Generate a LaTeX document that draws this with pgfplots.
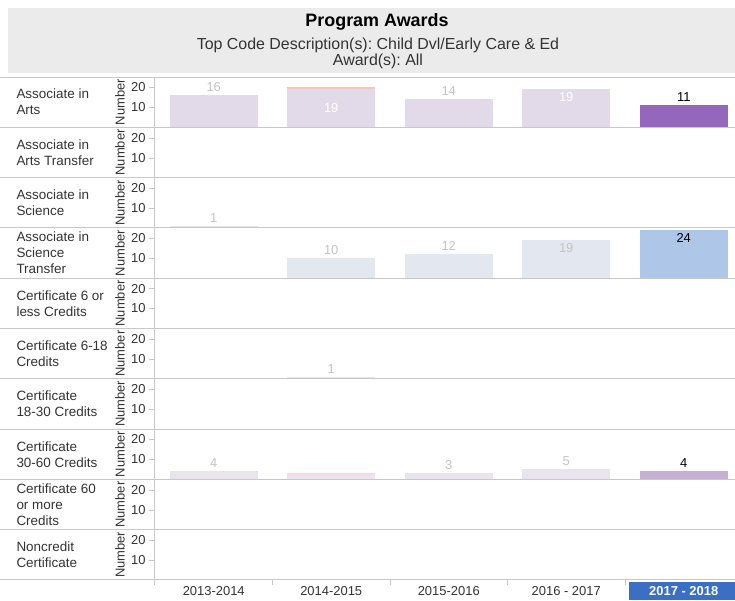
\documentclass[border=0pt]{standalone}
\usepackage{fontspec}
\setmainfont{Liberation Sans}
\usepackage{pgfplots}
\pgfplotsset{compat=1.18}
\usepgfplotslibrary{groupplots}
\frenchspacing

\definecolor{txt}{HTML}{333333}
\definecolor{hdr}{HTML}{EBEBEB}
\definecolor{sepgray}{HTML}{C8C8C8}
\definecolor{lblgray}{HTML}{C4C4C4}
\definecolor{artsF}{HTML}{E2DAE9}
\definecolor{artsH}{HTML}{9467BD}
\definecolor{salmon}{HTML}{F3C6BF}
\definecolor{sciF}{HTML}{E5E7EE}
\definecolor{astF}{HTML}{E3E7EF}
\definecolor{astH}{HTML}{AEC7E8}
\definecolor{peach}{HTML}{FCE3CC}
\definecolor{cF}{HTML}{E9E5EF}
\definecolor{cH}{HTML}{C5B0D5}
\definecolor{pinkF}{HTML}{F8D9DD}
\definecolor{selblue}{HTML}{3A6FC4}
\setlength{\fboxsep}{0pt}

% one bar with its label; #4 = label style
\newcommand{\bbar}[4]{\addplot[fill=#3,draw=none,nodes near coords,
  every node near coord/.append style={#4}] coordinates {(#1,#2)};}
% one bar without label
\newcommand{\ubar}[3]{\addplot[fill=#3,draw=none] coordinates {(#1,#2)};}
% row label, "Number" and separator line
\newcommand{\rowlabel}[1]{%
  \node[anchor=west,align=left,text=txt,font=\fontsize{13.5}{16}\selectfont]
    at ([xshift=-142bp]rel axis cs:0,0.5) {#1};
  \node[rotate=90,text=txt,font=\fontsize{13}{13}\selectfont]
    at ([xshift=-35bp]rel axis cs:0,0.5) {Number};
  \draw[sepgray,line width=1pt] ([xshift=-155bp]rel axis cs:0,0) -- ([xshift=580bp]rel axis cs:0,0);}

\tikzset{
  lo/.style={text=lblgray},
  li/.style={text=white,anchor=north},
  lg/.style={text=lblgray,anchor=north},
  lk/.style={text=black},
  lkin/.style={text=black,anchor=north},
}

\begin{document}
\begin{tikzpicture}
\begin{groupplot}[
  group style={group size=1 by 10, vertical sep=0pt},
  width=587.5bp, height=50.3bp, scale only axis,
  xmin=-0.5, xmax=4.5, ymin=0, ymax=25.2,
  ybar, /pgf/bar width=0.75, /pgf/bar shift=0pt,
  axis lines*=left,
  axis line style={-, draw=sepgray, line width=1pt},
  xtick=\empty, ytick={10,20},
  tick align=outside, major tick length=6bp,
  ytick style={draw=sepgray},
  yticklabel style={text=txt, font=\fontsize{13}{13}\selectfont},
  /pgf/number format/assume math mode=true,
  every node near coord/.append style={font=\fontsize{13}{13}\selectfont},
  clip=false,
]
\nextgroupplot
  \ubar{1}{20}{salmon}
  \bbar{0}{16}{artsF}{lo}
  \bbar{1}{19}{artsF}{text=white,anchor=center,yshift=-19bp}
  \bbar{2}{14}{artsF}{lo}
  \bbar{3}{19}{artsF}{li}
  \bbar{4}{11}{artsH}{lk}
  \rowlabel{Associate in\\Arts}
  \coordinate (TL) at (rel axis cs:0,1);
\nextgroupplot
  \rowlabel{Associate in\\Arts Transfer}
\nextgroupplot
  \bbar{0}{1}{sciF}{lo}
  \rowlabel{Associate in\\Science}
\nextgroupplot
  \bbar{1}{10}{astF}{lo}
  \bbar{2}{12}{astF}{lo}
  \bbar{3}{19}{astF}{lg}
  \bbar{4}{24}{astH}{lkin}
  \rowlabel{Associate in\\Science\\Transfer}
\nextgroupplot
  \rowlabel{Certificate 6 or\\less Credits}
\nextgroupplot
  \bbar{1}{1}{peach}{lo}
  \rowlabel{Certificate 6-18\\Credits}
\nextgroupplot
  \rowlabel{Certificate\\18-30 Credits}
\nextgroupplot
  \bbar{0}{4}{cF}{lo}
  \ubar{1}{3}{pinkF}
  \ubar{1}{2.4}{cF}
  \bbar{2}{3}{cF}{lo}
  \bbar{3}{5}{cF}{lo}
  \bbar{4}{4}{cH}{lk}
  \rowlabel{Certificate\\30-60 Credits}
\nextgroupplot
  \rowlabel{Certificate 60\\or more\\Credits}
\nextgroupplot[
  xtick={0,1,2,3,4},
  xticklabels={2013-2014,2014-2015,2015-2016,2016 - 2017,
    {\colorbox{selblue}{\makebox[110bp]{\rule[-4.5bp]{0pt}{18bp}\color{white}\bfseries 2017 - 2018}}}},
  xtick style={draw=none},
  xticklabel style={anchor=base, yshift=-10bp, text=txt, font=\fontsize{13}{13}\selectfont},
  extra x ticks={-0.5,0.5,1.5,2.5,3.5},
  extra x tick labels={},
  extra x tick style={xtick style={draw=sepgray, line width=1pt}, major tick length=5bp},
]
  \rowlabel{Noncredit\\Certificate}
  \coordinate (BL) at (rel axis cs:0,0);
\end{groupplot}
% title panel
\fill[hdr] ([xshift=-147bp,yshift=4bp]TL) rectangle ([xshift=580bp,yshift=69bp]TL);
\node[font=\fontsize{18}{18}\selectfont\bfseries,text=black] at ([xshift=222bp,yshift=55bp]TL) {Program Awards};
\node[font=\fontsize{16}{16}\selectfont,text=txt] at ([xshift=223bp,yshift=32bp]TL) {Top Code Description(s): Child Dvl/Early Care \& Ed};
\node[font=\fontsize{16}{16}\selectfont,text=txt] at ([xshift=223bp,yshift=16bp]TL) {Award(s): All};
\draw[sepgray,line width=1pt] ([xshift=-155bp]TL) -- ([xshift=580bp]TL);
\pgfresetboundingbox
\path ([xshift=-155bp,yshift=77bp]TL) rectangle ([xshift=580bp,yshift=-21bp]BL);
\end{tikzpicture}
\end{document}
